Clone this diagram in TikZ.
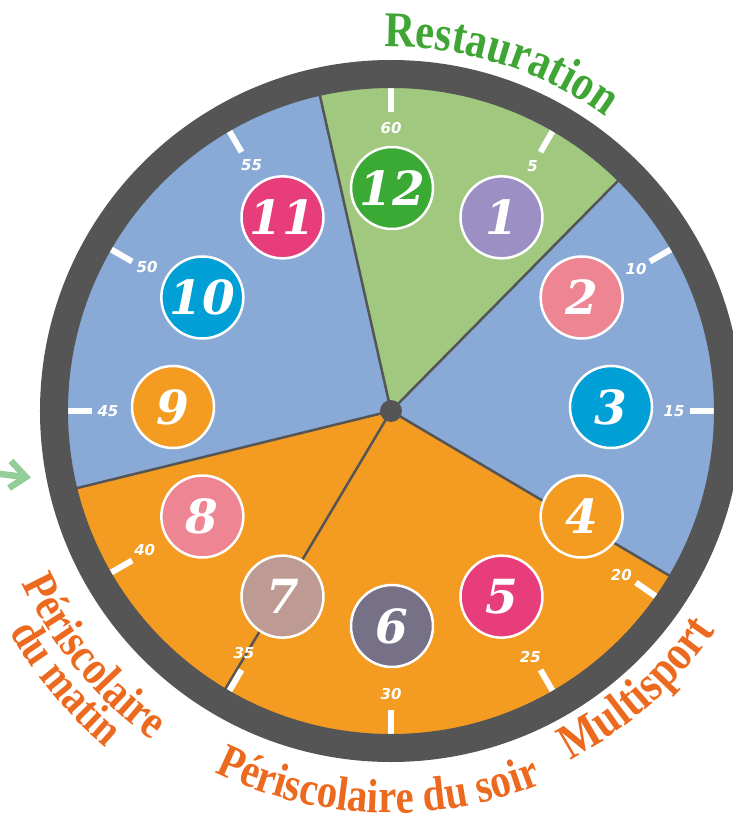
\documentclass[tikz,border=0pt]{standalone}
\usepackage{fontspec}
\usetikzlibrary{decorations.text}
\newfontfamily\labfont[FakeStretch=0.85]{Liberation Serif}
\newfontfamily\numfam{DejaVu Serif}
\newfontfamily\tickfam{DejaVu Sans}
\definecolor{ringgray}{HTML}{555555}
\definecolor{facegreen}{HTML}{A0C87F}
\definecolor{faceblue}{HTML}{89AAD6}
\definecolor{faceorange}{HTML}{F49B22}
\definecolor{restgreen}{HTML}{3FA535}
\definecolor{laborange}{HTML}{EC6A1F}
\definecolor{arrowgreen}{HTML}{93CD97}
\definecolor{cgreen}{HTML}{3BAA35}
\definecolor{cpurple}{HTML}{9C8FC4}
\definecolor{cpink}{HTML}{EE8593}
\definecolor{ccyan}{HTML}{009FD6}
\definecolor{corange}{HTML}{F49B22}
\definecolor{cmagenta}{HTML}{E73D7A}
\definecolor{cslate}{HTML}{767187}
\definecolor{cmauve}{HTML}{BD9B93}
\tikzset{
  divider/.style={draw=ringgray, line width=2.5},
  ticklinestyle/.style={draw=white, line width=6},
  ticklab/.style={text=white, inner sep=0, font=\tickfam\bfseries\itshape\fontsize{15}{15}\selectfont},
  numcirc/.style={circle, minimum size=82, inner sep=0, draw=white, line width=2.5, text=white,
    font=\numfam\bfseries\itshape\fontsize{47}{47}\selectfont},
  arclabel/.style={decorate, decoration={text along path, text align=center, text color=#1}},
}
\begin{document}
\begin{tikzpicture}[x=1pt,y=1pt]
\useasboundingbox (-391,-403) rectangle (341,411);
\coordinate (ctr) at (0,0);
% face sectors
\fill[facegreen] (ctr) -- (45.4:324) arc[start angle=45.4,end angle=102.7,radius=324] -- cycle;
\fill[faceblue] (ctr) -- (102.7:324) arc[start angle=102.7,end angle=193.8,radius=324] -- cycle;
\fill[faceorange] (ctr) -- (193.8:324) arc[start angle=193.8,end angle=239.2,radius=324] -- cycle;
\fill[faceorange] (ctr) -- (239.2:324) arc[start angle=239.2,end angle=329.4,radius=324] -- cycle;
\fill[faceblue] (ctr) -- (-30.6:324) arc[start angle=-30.6,end angle=45.4,radius=324] -- cycle;
% dividers
\foreach \a/\nm in {45.4/da,102.7/db,193.8/dc,239.2/dd,-30.6/de} {
  \coordinate (\nm) at (\a:324);
  \draw[divider] (ctr) -- (\nm);
}
% ticks and minute labels (angle of tick / angle of label)
\foreach \m/\ta/\la in {5/60/60,10/30/30,15/0/0,20/-35/-35.5,25/-60/-60.5,30/-90/-90,35/-120/-121.3,40/-150/-150.5,45/-180/-180,50/-210/-210.5,55/-240/-240.5,60/-270/-270} {
  \draw[ticklinestyle] (\ta:299) -- (\ta:326);
  \node[ticklab] (t\m) at (\la:283) {\m};
}
% ring
\draw[ringgray, line width=28] (ctr) circle[radius=337];
\node[circle, fill=ringgray, minimum size=22, inner sep=0] (hub) at (ctr) {};
% hour circles
\begin{scope}[shift={(1,4)}]
\foreach \h/\c in {1/cpurple,2/cpink,3/ccyan,4/corange,5/cmagenta,6/cslate,7/cmauve,8/cpink,9/corange,10/ccyan,11/cmagenta,12/cgreen} {
  \node[numcirc, fill=\c] (n\h) at ({90-30*\h}:219) {\h};
}
\end{scope}
% labels on arcs
\path[arclabel=restgreen, decoration={text={|\labfont\bfseries\fontsize{50}{50}\selectfont|Restauration}}]
  (112.5:364) arc[start angle=112.5,end angle=32.5,radius=364];
\path[arclabel=laborange, decoration={text={|\labfont\bfseries\fontsize{50}{50}\selectfont|Multisport}}]
  (-88.5:392) arc[start angle=-88.5,end angle=-8.5,radius=392];
\path[arclabel=laborange, decoration={text={|\labfont\bfseries\fontsize{48}{48}\selectfont|Périscolaire du soir}}]
  (-147:402) arc[start angle=-147,end angle=-37,radius=402];
\path[arclabel=laborange, decoration={text={|\labfont\bfseries\fontsize{48}{48}\selectfont|Périscolaire}}]
  (179.5:407) arc[start angle=179.5,end angle=259.5,radius=407];
\path[arclabel=laborange, decoration={text={|\labfont\bfseries\fontsize{46}{46}\selectfont|du matin}}]
  (189.9:441) arc[start angle=189.9,end angle=249.9,radius=441];
% green arrow at left edge
\coordinate (ar0) at (-398,-62);
\coordinate (ar1) at (-367,-66);
\coordinate (ara) at (-380,-50);
\coordinate (arb) at (-382,-77);
\draw[arrowgreen, line width=6.5] (ar0) -- (ar1);
\draw[arrowgreen, line width=6.5, line join=miter] (ara) -- (-365,-66) -- (arb);
\end{tikzpicture}
\end{document}
